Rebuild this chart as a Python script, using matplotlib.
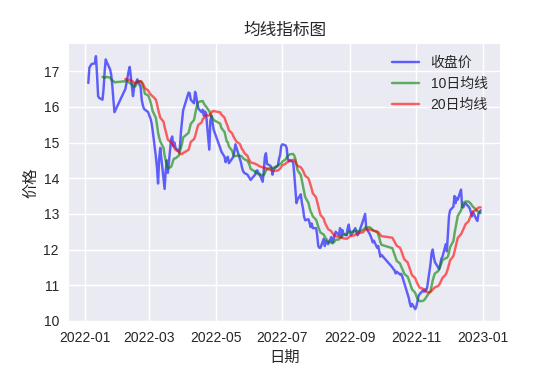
import matplotlib
matplotlib.use("Agg")
import matplotlib.pyplot as plt
import numpy as np
import pandas as pd

# closing prices per trading day
jan = [16.67, 17.10, 17.15, 17.20, 17.22, 17.42, 16.90, 16.30, 16.25, 16.20, 16.50, 17.00, 17.33, 17.25, 17.05, 16.90, 16.60, 16.20, 15.85]
feb = [16.50, 16.67, 16.85, 17.00, 17.12, 16.30, 16.55, 16.65, 16.70, 16.77, 16.55, 16.20, 16.05, 15.95, 15.92, 15.85]
mar = [15.75, 15.68, 15.55, 15.35, 14.60, 14.30, 13.85, 14.55, 14.85, 14.00, 13.70, 14.20, 14.50, 14.15, 15.10, 15.17, 14.90, 15.00, 14.85, 14.75, 14.85, 15.30, 15.60]
apr = [15.90, 16.40, 16.38, 16.20, 16.10, 16.42, 16.30, 16.10, 15.95, 15.85, 15.92, 15.75, 15.87, 15.83, 14.80, 15.62, 15.75, 15.55, 15.36]
may = [14.85, 14.75, 14.60, 14.45, 14.55, 14.60, 14.42, 14.55, 14.60, 14.75, 14.95, 14.85, 14.55, 14.45, 14.30, 14.20, 14.15, 14.10, 14.05]
jun = [14.00, 13.95, 14.10, 14.20, 14.22, 14.15, 14.12, 13.90, 14.20, 14.60, 14.70, 14.40, 14.35, 14.30, 14.10, 14.25, 14.28, 14.35, 14.55, 14.65, 14.90]
jul = [14.95, 14.92, 14.85, 14.55, 14.48, 14.50, 14.45, 14.10, 13.70, 13.30, 13.40, 13.55, 13.30, 13.15, 12.92, 12.82, 12.85, 12.75, 12.63, 12.73, 12.60]
aug = [12.60, 12.40, 12.10, 12.05, 12.05, 12.30, 12.10, 12.25, 12.20, 12.15, 12.35, 12.20, 12.28, 12.40, 12.50, 12.40, 12.60, 12.35, 12.55, 12.45, 12.40, 12.60, 12.70]
sep = [12.50, 12.40, 12.55, 12.60, 12.50, 12.40, 12.45, 12.80, 12.90, 13.00, 12.60, 12.45, 12.38, 12.30, 12.20, 12.25, 12.05, 12.10, 11.95, 11.80, 11.85]
oct_ = [11.50, 11.45, 11.42, 11.33, 11.38, 11.30, 11.32, 11.25, 11.15, 11.05, 10.75, 10.65, 10.50, 10.40, 10.48, 10.33]
nov = [10.40, 10.55, 10.70, 10.75, 10.85, 10.82, 10.88, 10.85, 10.95, 11.60, 11.90, 12.00, 11.80, 11.65, 11.50, 11.45, 11.60, 11.75, 11.80, 12.15, 11.95, 12.45]
dec = [12.95, 13.10, 13.20, 13.50, 13.30, 13.45, 13.40, 13.68, 13.20, 13.18, 13.25, 13.30, 13.20, 13.15, 13.05, 12.93, 13.05, 12.85, 12.80, 13.00, 13.05, 13.10]

# exchange holidays falling on weekdays
holidays = pd.to_datetime([
    "2022-01-31", "2022-02-01", "2022-02-02", "2022-02-03", "2022-02-04",
    "2022-04-04", "2022-04-05", "2022-05-02", "2022-05-03", "2022-05-04",
    "2022-06-03", "2022-09-12",
    "2022-10-03", "2022-10-04", "2022-10-05", "2022-10-06", "2022-10-07",
])
dates = pd.bdate_range("2022-01-04", "2022-12-30")
dates = dates[~dates.isin(holidays)]

close = jan + feb + mar + apr + may + jun + jul + aug + sep + oct_ + nov + dec
df = pd.DataFrame({"close": close}, index=dates)
df["ma10"] = df["close"].rolling(10).mean()
df["ma20"] = df["close"].rolling(20).mean()

plt.style.use("seaborn-v0_8")
plt.rcParams["font.family"] = ["Liberation Sans", "Noto Sans CJK SC", "DejaVu Sans"]
plt.rcParams["axes.unicode_minus"] = False

fig, ax = plt.subplots(figsize=(5.54, 3.69), dpi=100)
fig.subplots_adjust(left=0.124, right=0.903, top=0.882, bottom=0.128)

ax.plot(df.index, df["close"], color="blue", alpha=0.6, label="收盘价")
ax.plot(df.index, df["ma10"], color="green", alpha=0.6, label="10日均线")
ax.plot(df.index, df["ma20"], color="red", alpha=0.6, label="20日均线")

ax.set_title("均线指标图")
ax.set_xlabel("日期")
ax.set_ylabel("价格")
ax.legend(loc="upper right")

fig.savefig("out.png", dpi=100)
